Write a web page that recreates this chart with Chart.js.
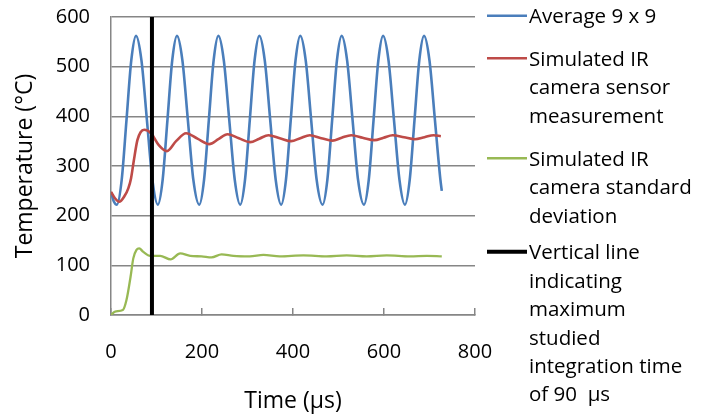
<!DOCTYPE html>
<html>
<head>
<meta charset="utf-8">
<script src="https://cdn.jsdelivr.net/npm/chart.js@4/dist/chart.umd.min.js"></script>
<style>
  html, body { margin: 0; padding: 0; background: #ffffff; }
  #wrap { width: 705px; height: 415px; }
</style>
</head>
<body>
<div id="wrap"><canvas id="c" width="705" height="415"></canvas></div>
<script>
// ---- Data ----
const xTitle = "Time (µs)";
const yTitle = "Temperature (°C)";

// Average 9 x 9
const blueT = [0, 6, 13, 23.5, 34, 44.5, 55, 67, 79, 91, 103, 113.5, 124, 134.5, 145, 157, 169, 181, 194,
  204.5, 215, 225.5, 236, 248, 260, 272, 284, 294.5, 305, 315.5, 326, 338, 350, 362, 374,
  384.5, 395, 405.5, 416, 428, 440, 452, 465, 475.5, 486, 496.5, 507, 519, 531, 543, 556,
  566.5, 577, 587.5, 598, 610, 622, 634, 646, 656.5, 667, 677.5, 688, 700, 712, 724, 727];
const blueV = [247, 229, 222, 272, 392, 512, 562, 512, 392, 272, 222, 272, 392, 512, 562, 512, 392, 272, 222,
  272, 392, 512, 562, 512, 392, 272, 222, 272, 392, 512, 562, 512, 392, 272, 222,
  272, 392, 512, 562, 512, 392, 272, 222, 272, 392, 512, 562, 512, 392, 272, 222,
  272, 392, 512, 562, 512, 392, 272, 222, 272, 392, 512, 562, 512, 392, 272, 250];

// Simulated IR camera sensor measurement
const redT = [0, 8, 18, 30, 38, 44, 50, 58, 65, 73, 88, 105, 123, 143, 165, 190, 216, 236, 256, 281, 306,
  326, 346, 371, 396, 416, 437, 462, 487, 507, 528, 553, 579, 599, 619, 644, 668, 689, 709, 725];
const redV = [248, 236, 228, 240, 255, 275, 310, 352, 368, 373, 366, 342, 330, 350, 366, 355, 344, 354, 364, 356, 348,
  355, 362, 356, 350, 356, 362, 356, 351, 357, 362, 357, 352, 357, 362, 358, 354, 358, 362, 360];

// Simulated IR camera standard deviation
const greenT = [0, 9, 26, 34, 43, 49, 56, 62, 71, 86, 108, 131, 152, 174, 199, 221, 243, 269, 305, 335, 371,
  423, 474, 518, 562, 606, 657, 694, 727];
const greenV = [0, 7, 10, 30, 77, 114, 131, 134, 127, 119, 119, 112, 124, 119, 118, 116, 122, 119, 118, 121, 118,
  120, 118, 120, 118, 120, 118, 119, 118];

// Vertical line at the maximum studied integration time
const markerT = [90, 90];
const markerV = [0, 600];

const seriesLabels = [
  ["Average 9 x 9"],
  ["Simulated IR", "camera sensor", "measurement"],
  ["Simulated IR", "camera standard", "deviation"],
  ["Vertical line", "indicating", "maximum", "studied", "integration time", "of 90  µs"]
];
const seriesColors = ["#4a7ebb", "#be4b48", "#98b954", "#000000"];

const xTicks = [0, 200, 400, 600, 800];
const yTicks = [0, 100, 200, 300, 400, 500, 600];

// ---- build ----
const FONT = "'Open Sans', 'DejaVu Sans', sans-serif";
const pts = (ts, vs) => ts.map((t, i) => ({ x: t, y: vs[i] }));

const legendPlugin = {
  id: 'sideLegend',
  afterDraw(chart) {
    const ctx = chart.ctx;
    const firstBase = [23.3, 65.7, 165.7, 259.3];
    const lineH = 28.4;
    ctx.save();
    ctx.font = "20.5px " + FONT;
    ctx.textBaseline = 'alphabetic';
    ctx.textAlign = 'left';
    seriesLabels.forEach((lines, i) => {
      const ds = chart.data.datasets[i];
      const b0 = firstBase[i];
      ctx.beginPath();
      ctx.strokeStyle = ds.borderColor;
      ctx.lineWidth = i === 3 ? 4 : 2.5;
      ctx.moveTo(487, b0 - 7.5);
      ctx.lineTo(527, b0 - 7.5);
      ctx.stroke();
      ctx.fillStyle = '#000';
      lines.forEach((ln, j) => ctx.fillText(ln, 529, b0 + j * lineH));
    });
    ctx.restore();
  }
};

const common = { pointRadius: 0, fill: false, cubicInterpolationMode: 'monotone' };

new Chart(document.getElementById('c'), {
  type: 'line',
  data: {
    datasets: [
      Object.assign({ label: seriesLabels[0].join(' '), data: pts(blueT, blueV), borderColor: seriesColors[0], borderWidth: 2.6, order: 4 }, common),
      Object.assign({ label: seriesLabels[1].join(' '), data: pts(redT, redV), borderColor: seriesColors[1], borderWidth: 2.6, order: 3 }, common),
      Object.assign({ label: seriesLabels[2].join(' '), data: pts(greenT, greenV), borderColor: seriesColors[2], borderWidth: 2.3, order: 2 }, common),
      Object.assign({ label: seriesLabels[3].join(' '), data: pts(markerT, markerV), borderColor: seriesColors[3], borderWidth: 4, order: 1 }, { pointRadius: 0, fill: false })
    ]
  },
  options: {
    responsive: false,
    devicePixelRatio: 1,
    animation: false,
    layout: { padding: { top: 17, right: 230, bottom: 0, left: 0 } },
    plugins: { legend: { display: false }, tooltip: { enabled: false } },
    scales: {
      x: {
        type: 'linear', min: 0, max: 800,
        afterBuildTicks: (s) => { s.ticks = xTicks.map(v => ({ value: v })); },
        afterFit: (s) => { s.height = 100; s.paddingLeft = 0; s.paddingRight = 0; },
        grid: { drawOnChartArea: false, drawTicks: true, tickLength: -7, color: '#868686', lineWidth: 1.5 },
        border: { color: '#868686', width: 1.5 },
        ticks: { padding: 32, color: '#000', font: { family: FONT, size: 20 }, maxRotation: 0 },
        title: { display: true, text: xTitle, color: '#000', font: { family: FONT, size: 23 }, padding: { top: 0, bottom: 0 } }
      },
      y: {
        type: 'linear', min: 0, max: 600,
        afterBuildTicks: (s) => { s.ticks = yTicks.map(v => ({ value: v })); },
        afterFit: (s) => { s.width = 111; s.paddingTop = 0; s.paddingBottom = 0; },
        grid: { drawTicks: false, color: '#868686', lineWidth: 1.5 },
        border: { color: '#868686', width: 1.5 },
        ticks: { padding: 21, color: '#000', font: { family: FONT, size: 20 } },
        title: { display: true, text: yTitle, color: '#000', font: { family: FONT, size: 23 }, padding: { top: 12, bottom: 0 } }
      }
    }
  },
  plugins: [legendPlugin]
});
</script>
</body>
</html>
